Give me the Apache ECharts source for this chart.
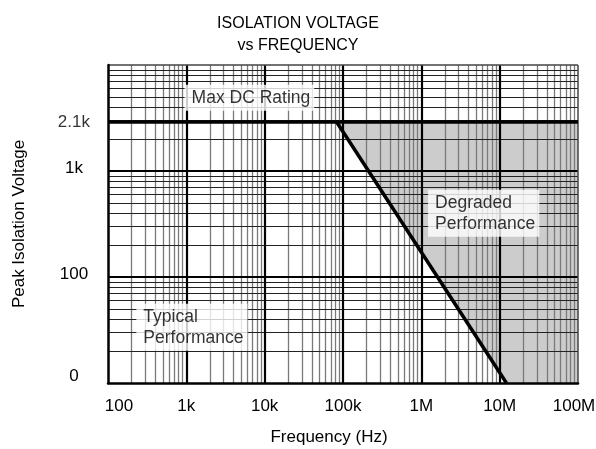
<!DOCTYPE html>
<html>
<head>
<meta charset="utf-8">
<script src="https://cdn.jsdelivr.net/npm/echarts@6/dist/echarts.min.js"></script>
<style>html,body{margin:0;padding:0;background:#fff}#c{width:596px;height:449px}</style>
</head>
<body>
<div id="c"></div>
<script>
// ---- data ----
const xTickValues = [100, 1e3, 1e4, 1e5, 1e6, 1e7, 1e8];
const xTickLabels = ['100', '1k', '10k', '100k', '1M', '10M', '100M'];
const yTickValues = [10, 100, 1000, 10000];
const yTickLabels = ['0', '100', '1k', ''];
const maxRatingLabel = '2.1k';
const maxRatingVoltage = 2900;           // drawn position of the "2.1k" line
const limitFreq = [83000, 12200000];     // Hz, degradation boundary
const limitVoltage = [2900, 10];         // V
const annotationNames = ['Max DC Rating', 'Typical\nPerformance', 'Degraded\nPerformance'];
const annotationFreq = [950, 230, 1220000];
const annotationVoltage = [4900, 33.6, 400];

// ---- derived ----
const xMin = xTickValues[0], xMax = xTickValues[xTickValues.length - 1];
const yMin = yTickValues[0], yMax = yTickValues[yTickValues.length - 1];
const FONT = 'Liberation Sans, Arial, sans-serif';

// log grid values (minor: 2..9 per decade, major: decades)
function minorVals(lo, hi) {
  const out = [];
  for (let d = lo; d < hi; d *= 10) for (let m = 2; m <= 9; m++) out.push(m * d);
  return out;
}
const gridLines = [];
minorVals(xMin, xMax).forEach(v => gridLines.push({xAxis: v, lineStyle: {color: '#7a7a7a', width: 1.3, type: 'solid'}}));
minorVals(yMin, yMax).forEach(v => gridLines.push({yAxis: v, lineStyle: {color: '#222', width: 1, type: 'solid'}}));
xTickValues.slice(1, -1).forEach(v => gridLines.push({xAxis: v, lineStyle: {color: '#000', width: 2.2, type: 'solid'}}));
yTickValues.slice(1, -1).forEach(v => gridLines.push({yAxis: v, lineStyle: {color: '#000', width: 2.2, type: 'solid'}}));
gridLines.push({xAxis: xMax, lineStyle: {color: '#444', width: 1.5, type: 'solid'}});
gridLines.push({yAxis: yMax, lineStyle: {color: '#444', width: 1.5, type: 'solid'}});

const degradedPolygon = [
  [limitFreq[0], limitVoltage[0]],
  [xMax, maxRatingVoltage],
  [xMax, yMin],
  [limitFreq[1], limitVoltage[1]]
];

const chart = echarts.init(document.getElementById('c'), null, {renderer: 'canvas'});
chart.setOption({
  animation: false,
  backgroundColor: '#fff',
  title: {
    text: 'ISOLATION VOLTAGE\nvs FREQUENCY',
    left: 'center', top: 8,
    textStyle: {fontFamily: FONT, fontSize: 16, fontWeight: 'normal', color: '#000', lineHeight: 22}
  },
  grid: {left: 108, right: 18, top: 65, bottom: 66, containLabel: false, outerBoundsMode: 'none'},
  xAxis: {
    type: 'log', logBase: 10, min: xMin, max: xMax, splitNumber: 6, z: 20,
    name: 'Frequency (Hz)', nameLocation: 'middle', nameGap: 46,
    nameTextStyle: {fontFamily: FONT, fontSize: 17, color: '#000', padding: [0, 28, 0, 0]},
    axisLine: {show: true, onZero: false, lineStyle: {color: '#000', width: 2.5}},
    axisTick: {show: false},
    splitLine: {show: false},
    axisLabel: {
      margin: 15, fontFamily: FONT, fontSize: 17, color: '#000',
      formatter: v => {
        const i = xTickValues.findIndex(t => Math.abs(Math.log10(t) - Math.log10(v)) < 1e-6);
        if (i < 0) return '';
        if (i === 0) return '{first|' + xTickLabels[i] + '}';
        if (i === xTickValues.length - 1) return '{last|' + xTickLabels[i] + '}';
        return xTickLabels[i];
      },
      rich: {
        first: {fontFamily: FONT, fontSize: 17, color: '#000', padding: [0, 0, 0, 22]},
        last: {fontFamily: FONT, fontSize: 17, color: '#000', padding: [0, 8, 0, 0]}
      }
    }
  },
  yAxis: {
    type: 'log', logBase: 10, min: yMin, max: yMax, splitNumber: 3, z: 20,
    name: 'Peak Isolation Voltage', nameLocation: 'middle', nameGap: 80, nameRotate: 90,
    nameTextStyle: {fontFamily: FONT, fontSize: 17, color: '#000'},
    axisLine: {show: true, onZero: false, lineStyle: {color: '#000', width: 2.5}},
    axisTick: {show: false},
    splitLine: {show: false},
    axisLabel: {
      margin: 34, align: 'center', fontFamily: FONT, fontSize: 17, color: '#000',
      formatter: v => {
        const i = yTickValues.findIndex(t => Math.abs(Math.log10(t) - Math.log10(v)) < 1e-6);
        if (i < 0 || !yTickLabels[i]) return '';
        return (i === 0 ? '{low|' : '{n|') + yTickLabels[i] + '}';
      },
      rich: {
        low: {fontFamily: FONT, fontSize: 17, color: '#000', padding: [0, 0, 14, 0]},
        n: {fontFamily: FONT, fontSize: 17, color: '#000', padding: [0, 0, 5, 0]}
      }
    }
  },
  series: [
    {
      type: 'custom', name: 'Degraded region', z: 1, silent: true,
      data: [degradedPolygon[0]],
      renderItem: (params, api) => ({
        type: 'polygon',
        shape: {points: degradedPolygon.map(p => api.coord(p))},
        style: {fill: '#cccccc'}
      })
    },
    {
      type: 'line', name: 'grid', z: 2, data: [], silent: true,
      markLine: {silent: true, z: 2, symbol: 'none', label: {show: false}, animation: false, data: gridLines}
    },
    {
      type: 'line', name: 'Max DC Rating', z: 10, symbol: 'none', silent: true,
      lineStyle: {color: '#000', width: 3.5},
      data: [[xMin, maxRatingVoltage], [xMax, maxRatingVoltage]]
    },
    {
      type: 'line', name: 'Limit', z: 10, symbol: 'none', silent: true,
      lineStyle: {color: '#000', width: 3.5},
      data: limitFreq.map((f, i) => [f, limitVoltage[i]])
    },
    {
      type: 'scatter', name: 'rating label', z: 11, symbolSize: 0, silent: true,
      data: [{name: maxRatingLabel, value: [xMin, maxRatingVoltage]}],
      label: {show: true, position: 'left', distance: 18, formatter: p => p.name,
        fontFamily: FONT, fontSize: 17, color: '#000'}
    },
    {
      type: 'scatter', name: 'annotations', z: 12, symbolSize: 0, silent: true,
      data: annotationNames.map((n, i) => ({name: n, value: [annotationFreq[i], annotationVoltage[i]]})),
      label: {
        show: true, position: 'right', distance: 0, formatter: p => p.name,
        backgroundColor: '#fff', padding: [3, 4, 2, 7],
        fontFamily: FONT, fontSize: 17.5, lineHeight: 21, color: '#000', align: 'left'
      }
    }
  ]
});
</script>
</body>
</html>
